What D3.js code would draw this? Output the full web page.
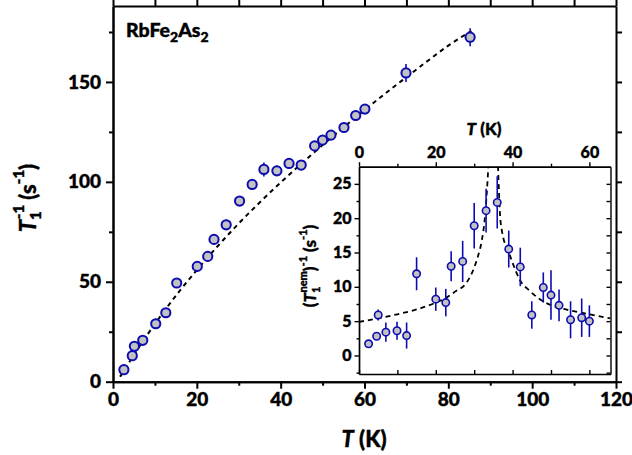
<!DOCTYPE html>
<html><head><meta charset="utf-8">
<script src="https://cdn.jsdelivr.net/npm/d3@7"></script>
<style>
body{margin:0;background:#fff}
svg{display:block}
text{font-family:Lato,"Open Sans",sans-serif;font-weight:900;fill:#000;stroke:#000;stroke-width:0.4px}
</style></head>
<body><svg id="chart" width="632" height="455"></svg>
<script>
// ---- main panel data: T (K), 1/T1 (s^-1), error ----
const mainT    = [2.6, 4.6, 5.1, 7.1, 10.2, 12.6, 15.2, 20.1, 22.6, 24.1, 27.0, 30.2, 33.2, 36.0, 39.1, 42.0, 44.9, 48.1, 50.0, 52.0, 55.1, 57.9, 60.1, 69.9, 85.2];
const mainRate = [6.0, 13.0, 17.7, 20.7, 29.0, 34.5, 49.4, 57.7, 62.7, 71.2, 78.5, 90.4, 98.7, 106.2, 105.5, 109.2, 108.4, 118.0, 120.9, 123.4, 127.2, 133.2, 136.4, 154.5, 172.4];
const mainErr  = [2.5, 2.5, 2.5, 2.5, 2.5, 2.5, 2.5, 2.5, 2.5, 2.5, 2.5, 2.5, 2.5, 3.5, 2.5, 2.5, 2.5, 2.5, 2.5, 2.5, 2.5, 2.5, 2.5, 4.5, 4.5];
// dashed fit curve
const mainFitT    = [1.7, 5, 8, 12, 16, 20, 25, 30, 35, 40, 45, 50, 55, 60, 65, 70, 75, 80, 85.5];
const mainFitRate = [2.5, 13.4, 22.9, 34.7, 45.7, 55.9, 67.9, 79.2, 89.7, 99.7, 109.2, 118.4, 127.3, 135.9, 144.3, 152.4, 160.4, 168.2, 175.5];
const mainXTicks = [0, 20, 40, 60, 80, 100, 120];
const mainXMinor = [10, 30, 50, 70, 90, 110];
const mainYTicks = [0, 50, 100, 150];
const mainYMinor = [25, 75, 125, 175];

// ---- inset data: T (K), (1/T1)nem (s^-1), error ----
const insetT    = [2.5, 4.6, 5.0, 7.0, 9.9, 12.4, 15.0, 20.0, 22.6, 24.0, 27.0, 30.0, 33.1, 36.0, 39.0, 42.0, 45.0, 48.0, 50.0, 52.1, 55.1, 58.0, 60.0];
const insetRate = [1.7, 2.8, 5.9, 3.4, 3.6, 2.9, 11.9, 8.2, 7.7, 13.0, 13.7, 18.9, 21.1, 22.3, 15.5, 12.9, 5.9, 9.9, 8.8, 7.3, 5.2, 5.5, 5.0];
const insetErr  = [0.4, 0.5, 0.8, 1.4, 1.3, 1.9, 2.4, 1.7, 2.0, 2.2, 3.0, 3.3, 3.2, 3.8, 2.7, 2.8, 2.0, 2.2, 3.6, 2.3, 2.7, 2.8, 2.3];
const insetFitLowT     = [0, 5, 10, 15, 20, 23, 25, 28, 30, 31, 32, 32.7, 33.2, 33.7];
const insetFitLowRate  = [4.9, 5.4, 6.0, 6.7, 7.7, 8.5, 9.3, 10.6, 12.8, 14.5, 16.8, 19.6, 23.0, 27.6];
const insetFitHighT    = [36.2, 36.7, 37.3, 38.9, 40.2, 41.9, 44.5, 47.1, 50.5, 53.9, 58.2, 65.5];
const insetFitHighRate = [27.6, 20.8, 17.9, 15.2, 13.2, 11.0, 9.4, 8.2, 7.2, 6.7, 6.2, 5.4];
const insetXTicks = [0, 20, 40, 60];
const insetXMinor = [10, 30, 50];
const insetYTicks = [0, 5, 10, 15, 20, 25];
const insetYMinor = [-2.5, 2.5, 7.5, 12.5, 17.5, 22.5];

const blue = "#0c0cb0", fillGray = "#c2c2c2";
const svg = d3.select("#chart");

// ================= MAIN =================
const x = d3.scaleLinear().domain([0, 120]).range([113, 616]);
const y = d3.scaleLinear().domain([0, 188]).range([381.7, 6]);

function styleAxis(g, w) {
  g.select(".domain").attr("stroke", "#000").attr("stroke-width", w);
  g.selectAll(".tick line").attr("stroke", "#000").attr("stroke-width", w);
  g.selectAll(".tick text").attr("font-family", "Lato, 'Open Sans', sans-serif").attr("font-weight", 900).attr("fill", "#000");
}

// minor ticks first
svg.append("g").attr("transform", `translate(0,${y(0)})`)
  .call(d3.axisBottom(x).tickValues(mainXMinor).tickSize(4).tickFormat("").tickSizeOuter(0))
  .call(g => styleAxis(g, 2));
svg.append("g").attr("transform", `translate(${x(0)},0)`)
  .call(d3.axisLeft(y).tickValues(mainYMinor).tickSize(4).tickFormat("").tickSizeOuter(0))
  .call(g => styleAxis(g, 2));
// top and right mirror axes
svg.append("g").attr("transform", `translate(0,${y(188)})`)
  .call(d3.axisTop(x).tickValues(d3.merge([mainXTicks, mainXMinor])).tickSize(6).tickFormat("").tickSizeOuter(0))
  .call(g => styleAxis(g, 2));
svg.append("g").attr("transform", `translate(${x(120)},0)`)
  .call(d3.axisRight(y).tickValues(d3.merge([mainYTicks, mainYMinor])).tickSize(6).tickFormat("").tickSizeOuter(0))
  .call(g => styleAxis(g, 2));
// major axes with labels
const gx = svg.append("g").attr("transform", `translate(0,${y(0)})`)
  .call(d3.axisBottom(x).tickValues(mainXTicks).tickSize(7).tickPadding(4).tickSizeOuter(0))
  .call(g => styleAxis(g, 2));
gx.selectAll(".tick text").attr("font-size", 19);
const gy = svg.append("g").attr("transform", `translate(${x(0)},0)`)
  .call(d3.axisLeft(y).tickValues(mainYTicks).tickSize(7).tickPadding(5).tickSizeOuter(0))
  .call(g => styleAxis(g, 2));
gy.selectAll(".tick text").attr("font-size", 19);

// fit line
const mainFit = mainFitT.map((t, i) => [t, mainFitRate[i]]);
svg.append("path").datum(mainFit)
  .attr("fill", "none").attr("stroke", "#000").attr("stroke-width", 2)
  .attr("stroke-dasharray", "4.5,4")
  .attr("d", d3.line().x(d => x(d[0])).y(d => y(d[1])).curve(d3.curveMonotoneX));

// points
const mainPts = mainT.map((t, i) => ({t, v: mainRate[i], e: mainErr[i]}));
svg.append("g").selectAll("line").data(mainPts).join("line")
  .attr("x1", d => x(d.t)).attr("x2", d => x(d.t))
  .attr("y1", d => y(d.v - d.e)).attr("y2", d => y(d.v + d.e))
  .attr("stroke", blue).attr("stroke-width", 1.6);
svg.append("g").selectAll("circle").data(mainPts).join("circle")
  .attr("cx", d => x(d.t)).attr("cy", d => y(d.v)).attr("r", 4.6)
  .attr("fill", fillGray).attr("stroke", blue).attr("stroke-width", 2);

// compound label
svg.append("text").attr("x", 126).attr("y", 37).attr("font-size", 19.5)
  .call(t => {
    t.append("tspan").text("RbFe");
    t.append("tspan").attr("font-size", 14).attr("dy", 5).text("2");
    t.append("tspan").attr("dy", -5).text("As");
    t.append("tspan").attr("font-size", 14).attr("dy", 5).text("2");
  });

// axis titles
svg.append("text").attr("x", 364).attr("y", 447).attr("text-anchor", "middle").attr("font-size", 22)
  .call(t => {
    t.append("tspan").attr("font-style", "italic").text("T");
    t.append("tspan").text(" (K)");
  });
svg.append("text").attr("transform", "translate(36,198) rotate(-90)").attr("text-anchor", "middle").attr("font-size", 22)
  .call(t => {
    t.append("tspan").attr("font-style", "italic").text("T");
    t.append("tspan").attr("font-size", 15).attr("dy", 5).text("1");
    t.append("tspan").attr("font-size", 15).attr("dx", -8).attr("dy", -17).text("-1");
    t.append("tspan").attr("dy", 12).text(" (s");
    t.append("tspan").attr("font-size", 15).attr("dy", -12).text("-1");
    t.append("tspan").attr("dy", 12).text(")");
  });

// ================= INSET =================
const ix = d3.scaleLinear().domain([0, 65.5]).range([359, 610.5]);
const iy = d3.scaleLinear().domain([-2.7, 27.5]).range([374, 166.7]);

svg.append("rect").attr("x", ix(0)).attr("y", iy(27.5))
  .attr("width", ix(65.5) - ix(0)).attr("height", iy(-2.7) - iy(27.5))
  .attr("fill", "#fff");

svg.append("clipPath").attr("id", "insetClip").append("rect")
  .attr("x", ix(0)).attr("y", iy(27.5)).attr("width", ix(65.5) - ix(0)).attr("height", iy(-2.7) - iy(27.5));

// inset axes
svg.append("g").attr("transform", `translate(0,${iy(-2.7)})`)
  .call(d3.axisTop(ix).tickValues(d3.merge([insetXTicks, insetXMinor])).tickSize(4).tickFormat("").tickSizeOuter(0))
  .call(g => styleAxis(g, 1.4));
svg.append("g").attr("transform", `translate(${ix(65.5)},0)`)
  .call(d3.axisLeft(iy).tickValues(d3.merge([insetYTicks, insetYMinor])).tickSize(4).tickFormat("").tickSizeOuter(0))
  .call(g => styleAxis(g, 1.4));
svg.append("g").attr("transform", `translate(${ix(0)},0)`)
  .call(d3.axisLeft(iy).tickValues(insetYMinor).tickSize(2.5).tickFormat("").tickSizeOuter(0))
  .call(g => styleAxis(g, 1.4));
svg.append("g").attr("transform", `translate(0,${iy(27.5)})`)
  .call(d3.axisTop(ix).tickValues(insetXMinor).tickSize(3).tickFormat("").tickSizeOuter(0))
  .call(g => styleAxis(g, 1.4));
const igx = svg.append("g").attr("transform", `translate(0,${iy(27.5)})`)
  .call(d3.axisTop(ix).tickValues(insetXTicks).tickSize(4.5).tickPadding(4).tickSizeOuter(0))
  .call(g => styleAxis(g, 1.4));
igx.selectAll(".tick text").attr("font-size", 16);
const igy = svg.append("g").attr("transform", `translate(${ix(0)},0)`)
  .call(d3.axisLeft(iy).tickValues(insetYTicks).tickSize(4.5).tickPadding(3).tickSizeOuter(0))
  .call(g => styleAxis(g, 1.4));
igy.selectAll(".tick text").attr("font-size", 16);

// inset fit curves
const iline = d3.line().x(d => ix(d[0])).y(d => iy(d[1])).curve(d3.curveMonotoneX);
const fitLow = insetFitLowT.map((t, i) => [t, insetFitLowRate[i]]);
const fitHigh = insetFitHighT.map((t, i) => [t, insetFitHighRate[i]]);
const fitG = svg.append("g").attr("clip-path", "url(#insetClip)");
[fitLow, fitHigh].forEach(dat => {
  fitG.append("path").datum(dat)
    .attr("fill", "none").attr("stroke", "#000").attr("stroke-width", 1.8)
    .attr("stroke-dasharray", "5,4").attr("d", iline);
});

// inset points
const insetPts = insetT.map((t, i) => ({t, v: insetRate[i], e: insetErr[i]}));
svg.append("g").selectAll("line").data(insetPts).join("line")
  .attr("x1", d => ix(d.t)).attr("x2", d => ix(d.t))
  .attr("y1", d => iy(d.v - d.e)).attr("y2", d => iy(d.v + d.e))
  .attr("stroke", blue).attr("stroke-width", 1.6);
svg.append("g").selectAll("circle").data(insetPts).join("circle")
  .attr("cx", d => ix(d.t)).attr("cy", d => iy(d.v)).attr("r", 3.7)
  .attr("fill", fillGray).attr("stroke", blue).attr("stroke-width", 1.6);

// inset titles
svg.append("text").attr("x", 484).attr("y", 135).attr("text-anchor", "middle").attr("font-size", 17)
  .call(t => {
    t.append("tspan").attr("font-style", "italic").text("T");
    t.append("tspan").text(" (K)");
  });
svg.append("text").attr("transform", "translate(316,266) rotate(-90)").attr("text-anchor", "middle").attr("font-size", 17)
  .call(t => {
    t.append("tspan").text("(");
    t.append("tspan").attr("font-style", "italic").text("T");
    t.append("tspan").attr("font-size", 11).attr("dy", 4).text("1");
    t.append("tspan").attr("font-size", 11).attr("dx", -6).attr("dy", -13).text("nem");
    t.append("tspan").attr("dy", 9).text(")");
    t.append("tspan").attr("font-size", 11).attr("dy", -9).text("-1");
    t.append("tspan").attr("dy", 9).text(" (s");
    t.append("tspan").attr("font-size", 11).attr("dy", -9).text("-1");
    t.append("tspan").attr("dy", 9).text(")");
  });
</script>
</body></html>
